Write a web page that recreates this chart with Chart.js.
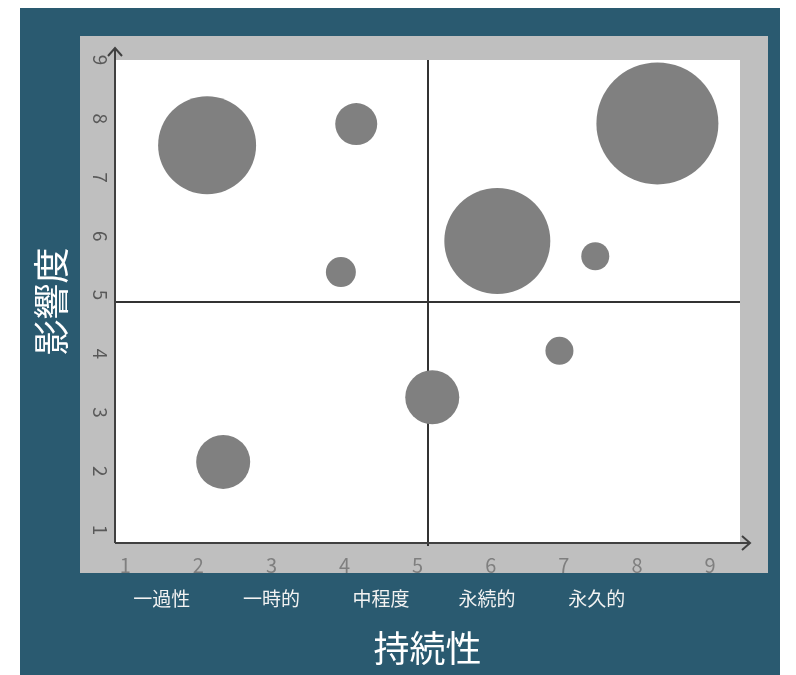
<!DOCTYPE html>
<html>
<head>
<meta charset="utf-8">
<script src="https://cdn.jsdelivr.net/npm/chart.js@4.4.1/dist/chart.umd.min.js"></script>
<style>
  html, body { margin: 0; padding: 0; background: #fff; }
  canvas { display: block; }
</style>
</head>
<body>
<canvas id="chart" width="796" height="675"></canvas>
<script>
// 持続性 (x) / 影響度 (y) / bubble radius
const bubbleX = [2.12, 4.16, 3.95, 6.09, 7.43, 8.28, 5.20, 6.94, 2.34];
const bubbleY = [7.55, 7.91, 5.39, 5.92, 5.66, 7.92, 3.26, 4.05, 2.16];
const bubbleR = [49, 21, 15, 53, 14, 61, 27, 14, 27];

const xTicks = [1, 2, 3, 4, 5, 6, 7, 8, 9];
const yTicks = [1, 2, 3, 4, 5, 6, 7, 8, 9];
const categories = ["一過性", "一時的", "中程度", "永続的", "永久的"];
const categoryTicks = [1.5, 3, 4.5, 5.95, 7.45];

const X_MIN = 0.86, X_MAX = 9.41;
const Y_MIN = 0.78, Y_MAX = 9;

const FONT = "'Noto Sans CJK JP', 'Noto Sans', sans-serif";
const AXIS_COLOR = "#404040";

// panels behind the plot + quadrant lines + arrowed axes
const frame = {
  id: "frame",
  beforeDraw(chart) {
    const { ctx, chartArea: a } = chart;
    ctx.save();
    ctx.fillStyle = "#ffffff";
    ctx.fillRect(0, 0, chart.width, chart.height);
    ctx.fillStyle = "#2a5a70";
    ctx.fillRect(20, 8, chart.width - 36, chart.height - 8);
    ctx.fillStyle = "#bfbfbf";
    ctx.fillRect(a.left - 35, a.top - 24, a.right - a.left + 63, a.bottom - a.top + 54);
    ctx.fillStyle = "#ffffff";
    ctx.fillRect(a.left, a.top, a.right - a.left, a.bottom - a.top);
    ctx.restore();
  },
  beforeDatasetsDraw(chart) {
    const { ctx, chartArea: a } = chart;
    const cx = Math.round((a.left + a.right) / 2);
    const cy = Math.round((a.top + a.bottom) / 2);
    ctx.save();
    ctx.strokeStyle = "#333333";
    ctx.lineWidth = 2;
    ctx.beginPath();
    ctx.moveTo(cx, a.top);
    ctx.lineTo(cx, a.bottom + 3);
    ctx.moveTo(a.left, cy);
    ctx.lineTo(a.right, cy);
    ctx.stroke();
    ctx.restore();
  },
  afterDatasetsDraw(chart) {
    const { ctx, chartArea: a } = chart;
    ctx.save();
    ctx.strokeStyle = AXIS_COLOR;
    ctx.lineWidth = 2;
    ctx.beginPath();
    // y axis with arrow
    ctx.moveTo(a.left, a.bottom);
    ctx.lineTo(a.left, a.top - 12);
    ctx.moveTo(a.left - 7, a.top - 4);
    ctx.lineTo(a.left, a.top - 12);
    ctx.lineTo(a.left + 7, a.top - 4);
    // x axis with arrow
    ctx.moveTo(a.left, a.bottom);
    ctx.lineTo(a.right + 10, a.bottom);
    ctx.moveTo(a.right + 2, a.bottom - 7);
    ctx.lineTo(a.right + 10, a.bottom);
    ctx.lineTo(a.right + 2, a.bottom + 7);
    ctx.stroke();
    ctx.restore();
  }
};

const points = bubbleX.map((x, i) => ({ x, y: bubbleY[i], r: bubbleR[i] }));

new Chart(document.getElementById("chart"), {
  type: "bubble",
  data: {
    datasets: [{
      data: points,
      backgroundColor: "#808080",
      borderWidth: 0,
      hoverBorderWidth: 0,
      clip: false
    }]
  },
  options: {
    responsive: false,
    animation: false,
    devicePixelRatio: 1,
    layout: { autoPadding: false, padding: { left: 20, right: 56, top: 60, bottom: 0 } },
    plugins: {
      legend: { display: false },
      tooltip: { enabled: false }
    },
    scales: {
      x: {
        type: "linear",
        position: "bottom",
        weight: 0,
        min: X_MIN,
        max: X_MAX,
        grid: { display: false, drawTicks: false },
        border: { display: false },
        afterBuildTicks: s => { s.ticks = xTicks.map(v => ({ value: v })); },
        afterFit: s => { s.height = 40; },
        ticks: {
          padding: 10,
          color: "#7f7f7f",
          font: { family: FONT, size: 20 },
          callback: v => String(v)
        }
      },
      x2: {
        type: "linear",
        axis: "x",
        position: "bottom",
        weight: 10,
        min: X_MIN,
        max: X_MAX,
        grid: { display: false, drawTicks: false },
        border: { display: false },
        afterBuildTicks: s => { s.ticks = categoryTicks.map(v => ({ value: v })); },
        afterFit: s => { s.height = 92; },
        ticks: {
          padding: 4,
          color: "#f2f2f2",
          font: { family: FONT, size: 19 },
          callback: (v, i) => categories[i]
        },
        title: {
          display: true,
          text: "持続性",
          color: "#ffffff",
          font: { family: FONT, size: 36 },
          padding: { top: 0, bottom: 5 }
        }
      },
      y: {
        type: "linear",
        position: "left",
        min: Y_MIN,
        max: Y_MAX,
        grid: { display: false, drawTicks: false },
        border: { display: false },
        afterBuildTicks: s => { s.ticks = yTicks.map(v => ({ value: v })); },
        afterCalculateLabelRotation: s => { s.labelRotation = -90; },
        afterFit: s => { s.width = 95; },
        ticks: {
          padding: 10,
          crossAlign: "center",
          color: "#595959",
          font: { family: FONT, size: 19 },
          callback: v => String(v)
        },
        title: {
          display: true,
          text: "影響度",
          color: "#ffffff",
          font: { family: FONT, size: 36 },
          padding: { top: 10, bottom: 0 }
        }
      }
    }
  },
  plugins: [frame]
});
</script>
</body>
</html>
